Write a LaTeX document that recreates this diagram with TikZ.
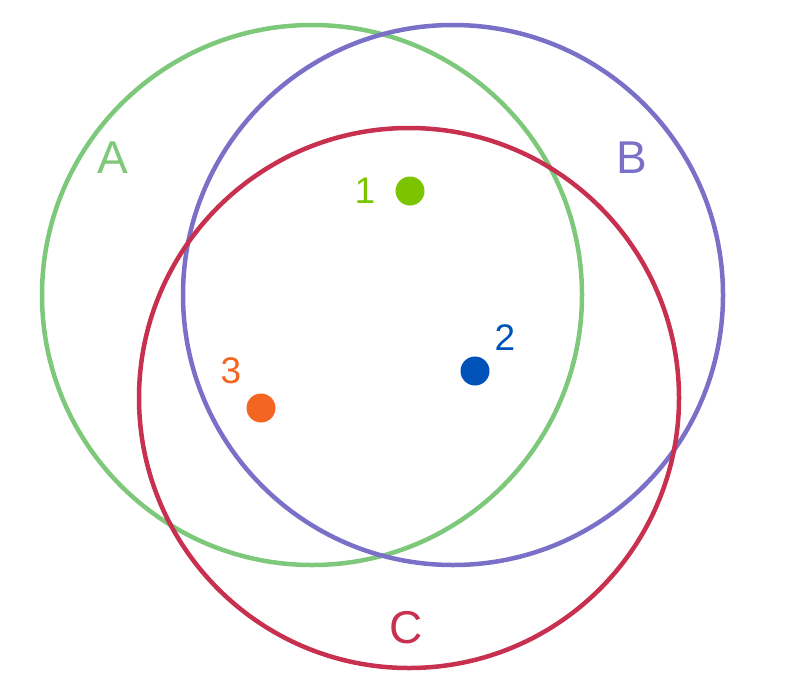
\documentclass[tikz,border=0pt]{standalone}
\usepackage{fontspec}
\setmainfont{Liberation Sans}
\definecolor{setgreen}{RGB}{125,200,122}
\definecolor{setpurple}{RGB}{123,112,200}
\definecolor{setred}{RGB}{200,48,80}
\definecolor{dotlime}{RGB}{125,196,0}
\definecolor{dotblue}{RGB}{0,82,184}
\definecolor{dotorange}{RGB}{242,101,34}
\begin{document}
\begin{tikzpicture}[x = 1pt, y = -1pt,
    set/.style = {shape = circle, draw = #1, line width = 4.5pt, inner sep = 0pt, minimum size = 540pt},
    pt/.style = {shape = circle, fill = #1, inner sep = 0pt, minimum size = 29pt},
    setname/.style = {text = #1, font = \fontsize{46}{46}\selectfont, inner sep = 0pt},
    ptname/.style = {text = #1, font = \fontsize{37}{37}\selectfont, inner sep = 0pt}]
    \useasboundingbox (0,0) rectangle (797,696);
    \node [set = setgreen] (A) at (312,295) {};
    \node [set = setpurple] (B) at (453,295) {};
    \node [set = setred] (C) at (409,398) {};
    \node [setname = setgreen] (LA) at (113,158) {A};
    \node [setname = setpurple] (LB) at (632,158) {B};
    \node [setname = setred] (LC) at (406,628) {C};
    \node [pt = dotlime] (P1) at (410,191) {};
    \node [pt = dotblue] (P2) at (475,371) {};
    \node [pt = dotorange] (P3) at (261,408) {};
    \node [ptname = dotlime] (N1) at (365,191) {1};
    \node [ptname = dotblue] (N2) at (505,338) {2};
    \node [ptname = dotorange] (N3) at (231,371) {3};
\end{tikzpicture}
\end{document}
